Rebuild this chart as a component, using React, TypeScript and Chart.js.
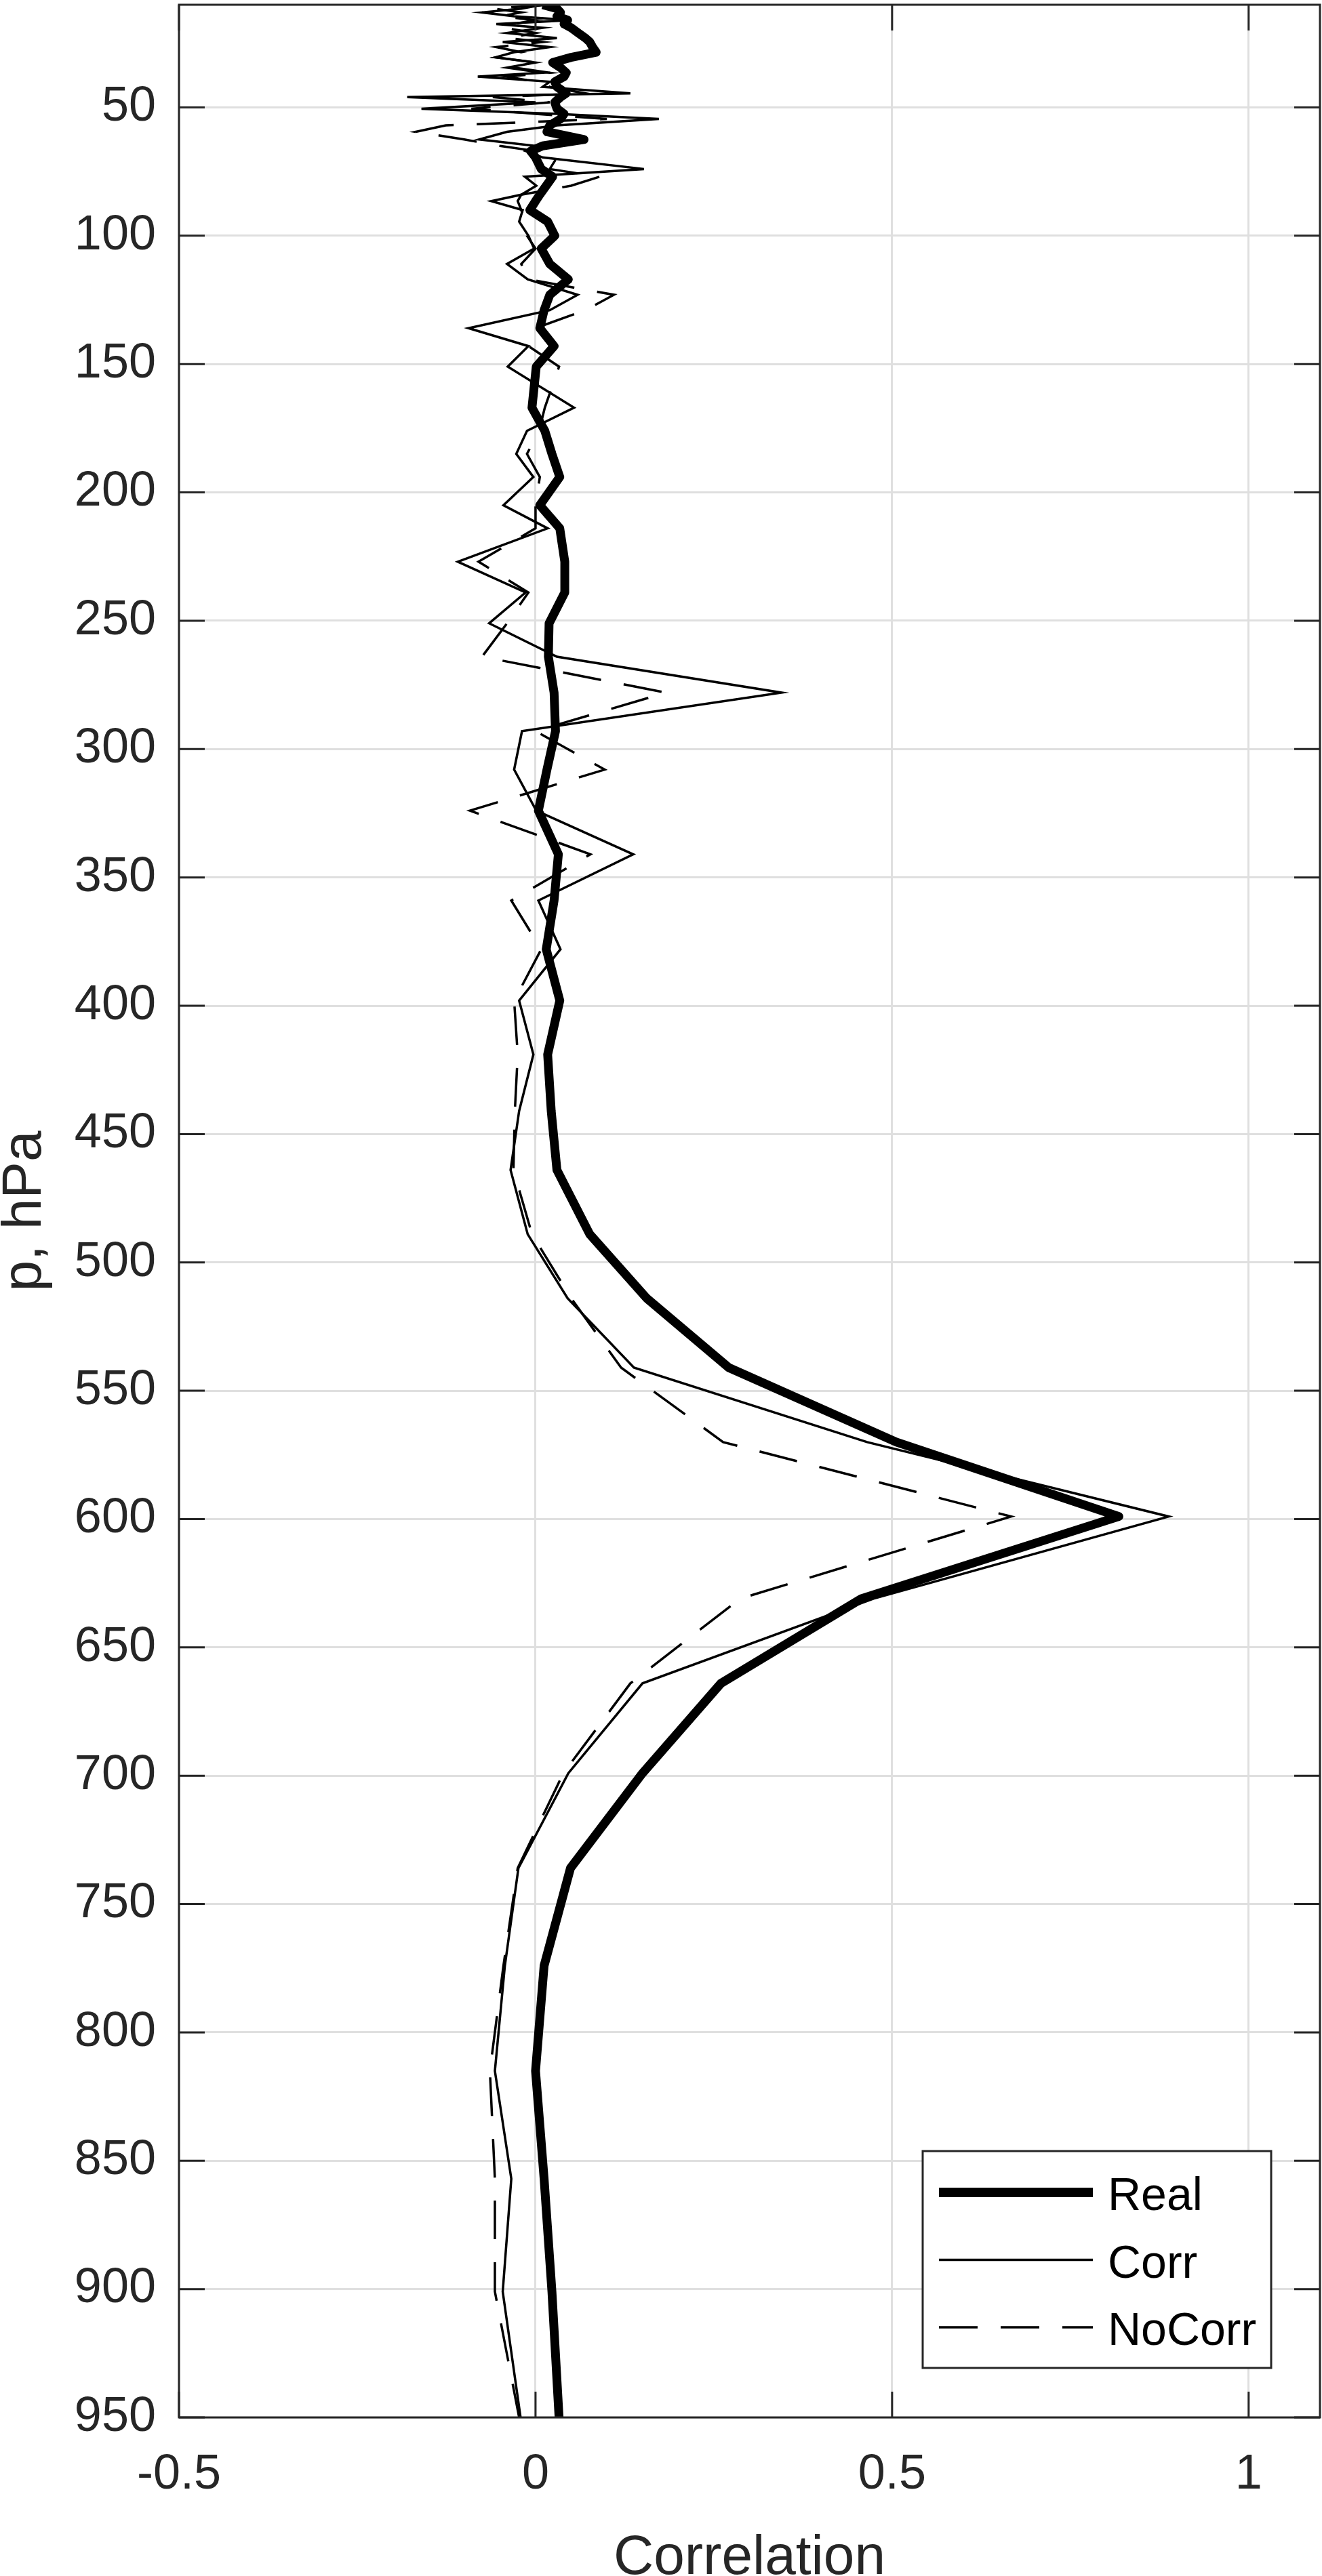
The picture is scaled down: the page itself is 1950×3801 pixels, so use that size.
import React, { useEffect, useRef } from 'react';
import { Chart, registerables } from 'chart.js';

Chart.register(...registerables);

// pressure levels, hPa (top to bottom)
const levels = [
  10, 11.5, 13, 14.5, 16, 17.5, 19, 21, 23, 24.5,
  26.5, 28.5, 30.5, 32.5, 34.5, 36.5, 38, 40, 42, 44.5,
  46, 48, 50.5, 52.5, 54.5, 57, 59.5, 62.5, 65, 67,
  69.5, 74, 77, 80.5, 84, 86.5, 90, 94.5, 100, 105,
  111, 117, 123, 129, 136, 143, 151, 167, 176, 185,
  194, 205, 214, 227, 239, 251, 264, 278, 293, 308,
  324, 341, 359, 378, 398, 419, 441, 464, 489, 514,
  541, 570, 599, 631, 664, 699, 736, 774, 815, 857,
  901, 950,
];

const realCorr = [
  0.01, 0.03, 0.035, 0.03, 0.045, 0.04, 0.05, 0.06, 0.07, 0.076,
  0.08, 0.085, 0.05, 0.024, 0.035, 0.043, 0.04, 0.027, 0.03, 0.043,
  0.035, 0.027, 0.03, 0.04, 0.035, 0.02, 0.016, 0.068, 0.01, -0.007,
  0.0, 0.008, 0.024, 0.015, 0.006, 0.0, -0.008, 0.017, 0.027, 0.008,
  0.02, 0.046, 0.02, 0.012, 0.006, 0.026, 0.001, -0.005, 0.013, 0.023,
  0.034, 0.006, 0.034, 0.041, 0.041, 0.019, 0.018, 0.026, 0.028, 0.016,
  0.004, 0.032, 0.026, 0.015, 0.034, 0.017, 0.022, 0.03, 0.076, 0.156,
  0.271, 0.506, 0.818, 0.457, 0.26, 0.15, 0.049, 0.012, 0.0, 0.012,
  0.023, 0.033,
];

const corrValues = [
  0.01, -0.02, -0.075, -0.03, 0.05, -0.055, 0.01, -0.04, 0.03, -0.046,
  0.02, -0.03, -0.056, 0.0, -0.04, 0.01, -0.081, 0.02, 0.01, 0.133,
  -0.18, 0.0, -0.16, 0.03, 0.173, 0.03, -0.04, -0.079, 0.0, -0.014,
  0.01, 0.152, -0.015, 0.001, -0.02, -0.062, -0.018, -0.023, -0.01, -0.002,
  -0.04, -0.011, 0.059, 0.02, -0.094, -0.01, -0.039, 0.054, -0.012, -0.027,
  -0.003, -0.045, 0.017, -0.109, -0.014, -0.065, 0.03, 0.345, -0.019, -0.03,
  0.001, 0.137, 0.004, 0.035, -0.023, -0.003, -0.023, -0.035, -0.011, 0.045,
  0.138, 0.465, 0.888, 0.474, 0.15, 0.046, -0.024, -0.043, -0.057, -0.034,
  -0.046, -0.021,
];

const noCorrValues = [
  0.02, -0.06, -0.02, -0.05, 0.0, -0.03, -0.045, 0.0, -0.04, 0.01,
  -0.055, -0.02, -0.055, 0.0, -0.03, 0.02, -0.04, 0.0, 0.02, 0.07,
  -0.06, 0.02, -0.09, 0.0, 0.1, -0.126, -0.168, -0.1, -0.05, 0.0,
  0.03, 0.02, 0.09, 0.05, -0.02, -0.025, -0.02, -0.015, -0.012, 0.0,
  -0.02, -0.01, 0.11, 0.07, 0.0, -0.01, 0.033, 0.013, 0.005, -0.012,
  0.006, 0.0, 0.0, -0.08, -0.01, -0.04, -0.075, 0.183, 0.0, 0.097,
  -0.092, 0.077, -0.034, 0.008, -0.03, -0.025, -0.029, -0.031, -0.005, 0.05,
  0.12, 0.263, 0.667, 0.287, 0.133, 0.039, -0.025, -0.045, -0.064, -0.057,
  -0.057, -0.023,
];

const xTicks = [-0.5, 0, 0.5, 1];
const yTicks = [50, 100, 150, 200, 250, 300, 350, 400, 450, 500, 550, 600, 650, 700, 750, 800, 850, 900, 950];

const seriesNames = ['Real', 'Corr', 'NoCorr'];

const FONT = "'Liberation Sans', Arial, Helvetica, sans-serif";
const AXIS_COLOR = '#262626';
const DASH = [57, 34];

const toPoints = (vals: number[]) => vals.map((v, i) => ({ x: v, y: levels[i] }));

export const ProfileChart = () => {
  const chartRef = useRef<HTMLCanvasElement>(null);
  const chartInstance = useRef<Chart | null>(null);

  useEffect(() => {
    if (!chartRef.current) return;
    if (chartInstance.current) chartInstance.current.destroy();
    const ctx = chartRef.current.getContext('2d');
    if (!ctx) return;

    chartInstance.current = new Chart(ctx, {
      type: 'line',
      data: {
        datasets: [
          {
            label: seriesNames[0],
            data: toPoints(realCorr),
            borderColor: '#000',
            borderWidth: 13,
            borderJoinStyle: 'round',
            pointRadius: 0,
            tension: 0,
          },
          {
            label: seriesNames[1],
            data: toPoints(corrValues),
            borderColor: '#000',
            borderWidth: 3.5,
            pointRadius: 0,
            tension: 0,
          },
          {
            label: seriesNames[2],
            data: toPoints(noCorrValues),
            borderColor: '#000',
            borderWidth: 3.5,
            borderDash: DASH,
            pointRadius: 0,
            tension: 0,
          },
        ],
      },
      options: {
        responsive: false,
        animation: false,
        events: [],
        layout: { padding: { top: 7, right: 3, left: 0, bottom: 0 } },
        plugins: { legend: { display: false }, tooltip: { enabled: false } },
        scales: {
          x: {
            type: 'linear',
            position: 'bottom',
            min: -0.5,
            max: 1.1,
            afterBuildTicks: (axis: any) => { axis.ticks = xTicks.map(v => ({ value: v })); },
            afterFit: (axis: any) => {
              axis.height = 234;
              axis.paddingLeft = 0;
              axis.paddingRight = 0;
            },
            grid: { color: '#dfdfdf', lineWidth: 3, drawTicks: false },
            border: { display: false },
            ticks: {
              color: AXIS_COLOR,
              padding: 42,
              maxRotation: 0,
              font: { family: FONT, size: 72 },
              callback: (v: any) => String(v),
            },
          },
          y: {
            type: 'linear',
            reverse: true,
            min: 10,
            max: 950,
            afterBuildTicks: (axis: any) => { axis.ticks = yTicks.map(v => ({ value: v })); },
            afterFit: (axis: any) => {
              axis.width = 264;
              axis.paddingTop = 0;
              axis.paddingBottom = 0;
            },
            grid: { color: '#dfdfdf', lineWidth: 3, drawTicks: false },
            border: { display: false },
            ticks: {
              color: AXIS_COLOR,
              padding: 34,
              font: { family: FONT, size: 72 },
              callback: (v: any) => String(v),
            },
          },
        },
      },
      plugins: [{
        id: 'matlabFrame',
        afterDatasetsDraw: (chart: any) => {
          const c = chart.ctx;
          const { left, right, top, bottom } = chart.chartArea;
          const xs = chart.scales.x;
          const ys = chart.scales.y;
          const tick = 38;

          c.save();
          c.strokeStyle = AXIS_COLOR;
          c.lineWidth = 3;
          c.setLineDash([]);
          c.beginPath();
          xTicks.forEach(v => {
            const px = xs.getPixelForValue(v);
            c.moveTo(px, bottom); c.lineTo(px, bottom - tick);
            c.moveTo(px, top); c.lineTo(px, top + tick);
          });
          yTicks.forEach(v => {
            const py = ys.getPixelForValue(v);
            c.moveTo(left, py); c.lineTo(left + tick, py);
            c.moveTo(right, py); c.lineTo(right - tick, py);
          });
          c.stroke();
          c.strokeRect(left, top, right - left, bottom - top);

          // legend, bottom right inside the axes
          const lw = 514, lh = 320;
          const lx = right - 72 - lw;
          const ly = bottom - 73 - lh;
          c.fillStyle = '#fff';
          c.fillRect(lx, ly, lw, lh);
          c.strokeRect(lx, ly, lw, lh);
          const widths = [14, 3.5, 3.5];
          const dashes = [[], [], DASH];
          c.font = `68px ${FONT}`;
          c.textAlign = 'left';
          c.textBaseline = 'alphabetic';
          seriesNames.forEach((name, i) => {
            const yy = ly + 61 + i * 99.5;
            c.strokeStyle = '#000';
            c.lineWidth = widths[i];
            c.setLineDash(dashes[i]);
            c.beginPath();
            c.moveTo(lx + 24, yy);
            c.lineTo(lx + 251, yy);
            c.stroke();
            c.setLineDash([]);
            c.fillStyle = '#000';
            c.fillText(name, lx + 273, yy + 26);
          });

          // axis titles
          c.fillStyle = AXIS_COLOR;
          c.font = `82px ${FONT}`;
          c.textAlign = 'center';
          c.fillText('Correlation', (left + right) / 2, 3798);
          c.translate(60, (top + bottom) / 2);
          c.rotate(-Math.PI / 2);
          c.fillText('p, hPa', 0, 0);
          c.restore();
        },
      }],
    });

    return () => {
      if (chartInstance.current) chartInstance.current.destroy();
    };
  }, []);

  return (
    <div style={{ position: 'absolute', left: 0, top: 0, width: 1950, height: 3801, background: '#fff' }}>
      <canvas ref={chartRef} width={1950} height={3801} style={{ display: 'block', width: 1950, height: 3801 }}></canvas>
    </div>
  );
};

export default function App() {
  return <ProfileChart />;
}
